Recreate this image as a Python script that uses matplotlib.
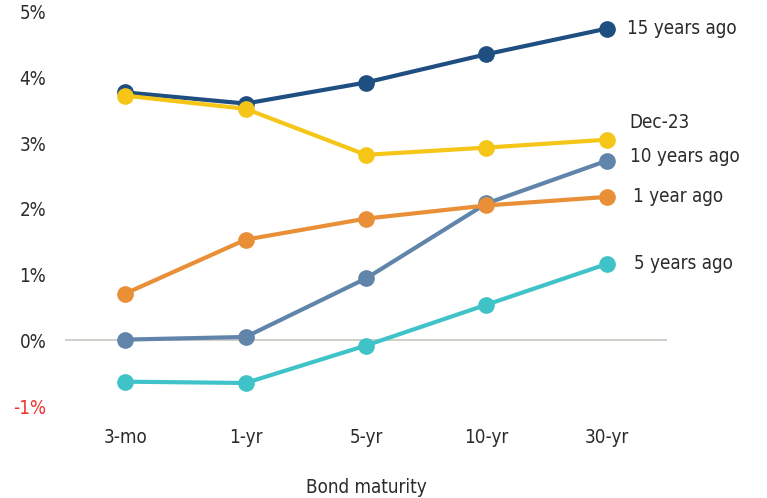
import matplotlib
matplotlib.use("Agg")
import matplotlib.pyplot as plt

maturities = ["3-mo", "1-yr", "5-yr", "10-yr", "30-yr"]

yrs15_ago = [3.77, 3.60, 3.92, 4.35, 4.74]
yrs10_ago = [0.01, 0.05, 0.94, 2.08, 2.73]
yr1_ago = [0.71, 1.53, 1.85, 2.05, 2.18]
yrs5_ago = [-0.63, -0.65, -0.08, 0.54, 1.16]
dec23 = [3.72, 3.52, 2.82, 2.93, 3.05]

y_ticks = [-1, 0, 1, 2, 3, 4, 5]
y_tick_labels = ["-1%", "0%", "1%", "2%", "3%", "4%", "5%"]

series = [
    ("15 years ago", yrs15_ago, "#1f4e80", (0.17, 0.0)),
    ("10 years ago", yrs10_ago, "#6185aa", (0.19, 0.06)),
    ("1 year ago", yr1_ago, "#e98f37", (0.22, 0.0)),
    ("5 years ago", yrs5_ago, "#3fc3c8", (0.23, 0.0)),
    ("Dec-23", dec23, "#f5c617", (0.19, 0.26)),
]

txt = dict(family="DejaVu Sans", stretch="condensed", fontsize=13.5,
           color="#2b2b2b")

fig = plt.figure(figsize=(7.67, 4.98), dpi=100)
ax = fig.add_axes([65 / 767, 92 / 498, 602 / 767, 394.5 / 498])

x = list(range(len(maturities)))
ax.axhline(0, color="#c8c6c0", lw=1.2, zorder=1)

for i, (name, vals, color, (dx, dy)) in enumerate(series):
    ax.plot(x, vals, color=color, lw=3.0, marker="o", markersize=11,
            solid_capstyle="round", zorder=3 + i)
    ax.text(x[-1] + dx, vals[-1] + dy, name, va="center", ha="left", **txt)

ax.set_xlim(-0.5, 4.5)
ax.set_ylim(-1, 5)
ax.set_xticks(x)
ax.set_xticklabels(maturities, **txt)
ax.set_yticks(y_ticks)
ax.set_yticklabels(y_tick_labels, **txt)
ax.get_yticklabels()[0].set_color("#ee3333")
ax.tick_params(axis="both", length=0)
ax.tick_params(axis="y", pad=13.5)
ax.tick_params(axis="x", pad=16)
for s in ax.spines.values():
    s.set_visible(False)
ax.set_xlabel("Bond maturity", labelpad=22, **txt)

fig.savefig("out.png", dpi=100)
